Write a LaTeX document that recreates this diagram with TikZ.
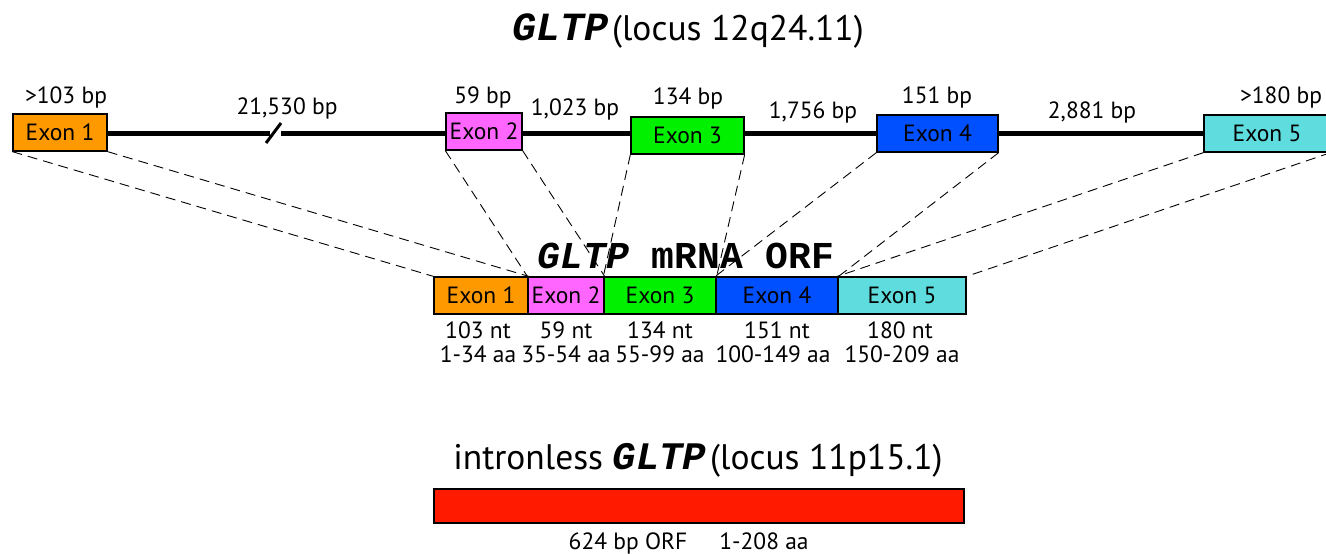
\documentclass[tikz,border=0pt]{standalone}
\usepackage{fontspec}
\setmainfont{PT Sans}
\newfontfamily\monob{Liberation Mono}
\definecolor{cOrange}{HTML}{FF9900}
\definecolor{cPink}{HTML}{FF66FF}
\definecolor{cGreen}{HTML}{00F000}
\definecolor{cBlue}{HTML}{0050FF}
\definecolor{cCyan}{HTML}{5FDCDE}
\definecolor{cRed}{HTML}{FF1A00}
\newcommand{\gl}[1]{{\monob\bfseries\itshape #1}}
\newcommand{\bigsans}{\fontsize{35.5}{38}\selectfont}
\begin{document}
\begin{tikzpicture}[x=1pt,y=-1pt,
  every node/.style={font=\fontsize{23.5}{27}\selectfont, inner sep=0pt},
  exonbox/.style={draw=black, line width=1.3pt, minimum height=37pt, anchor=center},
  guide/.style={dashed, dash pattern=on 10pt off 6pt, line width=0.9pt},
  backbone/.style={line width=5pt},
  lbl/.style={anchor=center}]
\useasboundingbox (0,0) rectangle (1326,554);
\begin{scope}
\clip (0,0) rectangle (1326,554);
% title
\node[lbl] (title) at (688,31) {\gl{\fontsize{40}{40}\selectfont GLTP}\,{\bigsans(locus 12q24.11)}};
% backbone break points
\coordinate (bkA) at (270,133);
\coordinate (bkB) at (281,133);
% top exons
\node[exonbox, fill=cOrange, minimum width=94pt] (t1) at (60,132.5) {Exon 1};
\node[exonbox, fill=cPink, minimum width=76pt] (t2) at (484,131.5) {Exon 2};
\node[exonbox, fill=cGreen, minimum width=113pt] (t3) at (687.5,135.5) {Exon 3};
\node[exonbox, fill=cBlue, minimum width=121pt] (t4) at (937.5,133.5) {Exon 4};
\node[exonbox, fill=cCyan, minimum width=126pt] (t5) at (1267,133.5) {Exon 5};
\draw[backbone] (t1.east |- bkA) -- (bkA);
\draw[backbone] (bkB) -- (t2.west |- bkB);
\draw[backbone] (t2.east |- bkB) -- (t3.west |- bkB);
\draw[backbone] (t3.east |- bkB) -- (t4.west |- bkB);
\draw[backbone] (t4.east |- bkB) -- (t5.west |- bkB);
\coordinate (slA) at (266,143);
\coordinate (slB) at (281,123);
\draw[line width=3pt] (slA) -- (slB);
% top labels
\node[lbl] (l1) at (66,97) {>103 bp};
\node[lbl] (l2) at (287,108) {21,530 bp};
\node[lbl] (l3) at (483,97) {59 bp};
\node[lbl] (l4) at (575,109) {1,023 bp};
\node[lbl] (l5) at (688,98) {134 bp};
\node[lbl] (l6) at (813,112) {1,756 bp};
\node[lbl] (l7) at (937,97) {151 bp};
\node[lbl] (l8) at (1092,112) {2,881 bp};
\node[lbl] (l9) at (1281,97) {>180 bp};
% mRNA
\node[lbl] (mtitle) at (686,256) {\fontsize{38}{40}\selectfont\monob\bfseries{\itshape GLTP} mRNA ORF};
\node[exonbox, fill=cOrange, minimum width=94pt] (m1) at (481,295.5) {Exon 1};
\node[exonbox, fill=cPink, minimum width=76pt] (m2) at (566,295.5) {Exon 2};
\node[exonbox, fill=cGreen, minimum width=112pt] (m3) at (660,295.5) {Exon 3};
\node[exonbox, fill=cBlue, minimum width=122pt] (m4) at (777,295.5) {Exon 4};
\node[exonbox, fill=cCyan, minimum width=128pt] (m5) at (902,295.5) {Exon 5};
% dashed guides
\draw[guide] (t1.south west) -- (m1.north west);
\draw[guide] (t1.south east) -- (m1.north east);
\draw[guide] (t2.south west) -- (m2.north west);
\draw[guide] (t2.south east) -- (m2.north east);
\draw[guide] (t3.south west) -- (m3.north west);
\draw[guide] (t3.south east) -- (m3.north east);
\draw[guide] (t4.south west) -- (m4.north west);
\draw[guide] (t4.south east) -- (m4.north east);
\draw[guide] (t5.south west) -- (m5.north west);
\draw[guide] (t5.south east) -- (m5.north east);
% mRNA labels
\node[lbl] (n1) at (478,330) {103 nt};
\node[lbl] (a1) at (478,354) {1-34 aa};
\node[lbl] (n2) at (566,330) {59 nt};
\node[lbl] (a2) at (566,354) {35-54 aa};
\node[lbl] (n3) at (660,330) {134 nt};
\node[lbl] (a3) at (660,354) {55-99 aa};
\node[lbl] (n4) at (777,330) {151 nt};
\node[lbl] (a4) at (773,354) {100-149 aa};
\node[lbl] (n5) at (900,330) {180 nt};
\node[lbl] (a5) at (902,354) {150-209 aa};
% intronless
\node[lbl] (btitle) at (698,460) {{\bigsans intronless }\gl{\fontsize{39}{40}\selectfont GLTP}\,{\bigsans(locus 11p15.1)}};
\node[draw=black, line width=1.3pt, fill=cRed, minimum width=530pt, minimum height=34pt] (bar) at (699,506) {};
\node[anchor=base] (orf) at (628,549) {624 bp ORF};
\node[anchor=base] (aa) at (764,549) {1-208 aa};
\end{scope}
\end{tikzpicture}
\end{document}
